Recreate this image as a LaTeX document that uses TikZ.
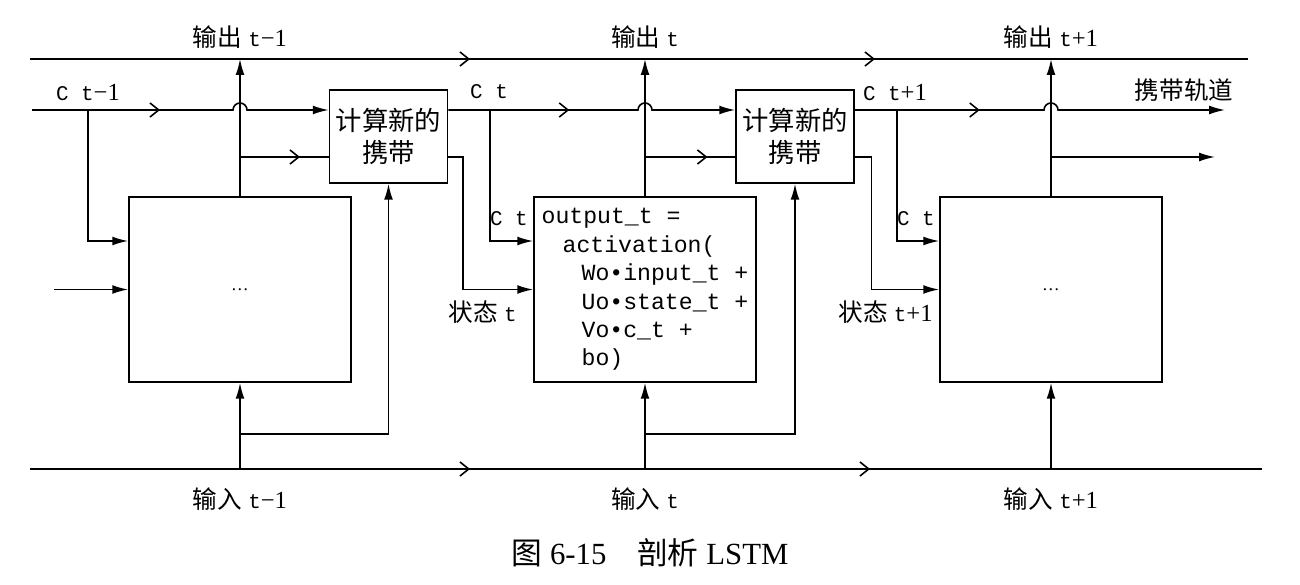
\documentclass[tikz,border=0pt]{standalone}
\usepackage{fontspec}
\setmainfont{Liberation Serif}
\setmonofont[Scale=0.85]{Liberation Mono}
\newfontfamily\cjk{Noto Sans CJK SC}
\usepackage{tikz}
\usetikzlibrary{arrows.meta,calc,decorations.markings}

\begin{document}
\begin{tikzpicture}[
  wire/.style={line width=.9pt},
  arr/.style={-{Latex[length=9pt,width=5pt]}},
  midarr/.style={postaction={decorate,decoration={markings,
      mark=at position #1 with {\arrow{Straight Barb[length=5pt,width=8pt,line width=.9pt]}}}}},
  lstm/.style={draw,line width=.9pt,minimum width=4.44cm,minimum height=3.7cm},
  newc/.style={draw,line width=.9pt,minimum width=2.36cm,minimum height=1.86cm,
      align=center,font=\cjk\fontsize{15}{18.7}\selectfont},
  lbl/.style={font=\fontsize{14}{16}\selectfont},
  code/.style={align=left,font=\ttfamily\fontsize{15.5}{16.2}\selectfont}
]
\useasboundingbox (0,0) rectangle (26,11.68);

% definitions
\coordinate (o0) at (0.6,10.5);   % output line
\coordinate (o1) at (24.96,10.5);
\coordinate (c0) at (0.64,9.48);  % carry track
\coordinate (c1) at (24.5,9.48);
\coordinate (s0) at (0,8.54);
\coordinate (s1) at (24.3,8.54);
\coordinate (i0) at (0.6,2.3);    % input line
\coordinate (i1) at (25.24,2.3);
\coordinate (x0) at (1.08,5.89);
\coordinate (ct1) at (1.76,9.48);
\coordinate (ct2) at (9.8,9.48);
\coordinate (ct3) at (17.94,9.48);

\node[lstm] (box1) at (4.8,5.89) {\fontsize{10}{12}\selectfont …};
\node[lstm] (box2) at (12.9,5.89) {};
\node[lstm] (box3) at (21.02,5.89) {\fontsize{10}{12}\selectfont …};
\node[newc] (comp1) at (7.77,8.95) {计算新的\\携带};
\node[newc] (comp2) at (15.9,8.95) {计算新的\\携带};
\node[code] (expr) at (box2) {output\_t =\\
  \hspace*{0.42cm}activation(\\
  \hspace*{0.8cm}Wo•input\_t +\\
  \hspace*{0.8cm}Uo•state\_t +\\
  \hspace*{0.8cm}Vo•c\_t +\\
  \hspace*{0.8cm}bo)};

% drawing
\draw[wire,midarr=8.8cm,midarr=16.9cm] (o0) -- (o1);
\draw[wire,midarr=8.8cm,midarr=16.8cm] (i0) -- (i1);
\draw[wire,arr,midarr=2.56cm] (c0) -- ($(box1.north |- c0)+(-0.14,0)$)
  arc[start angle=180,end angle=0,radius=0.14] -- (comp1.west |- c0);
\draw[wire,arr,midarr=2.42cm] (comp1.east |- c0) -- ($(box2.north |- c0)+(-0.14,0)$)
  arc[start angle=180,end angle=0,radius=0.14] -- (comp2.west |- c0);
\draw[wire,arr,midarr=2.5cm] (comp2.east |- c0) -- ($(box3.north |- c0)+(-0.14,0)$)
  arc[start angle=180,end angle=0,radius=0.14] -- (c1);

\draw[wire,arr] (box1.north) -- (box1.north |- o0);
\draw[wire,arr] (box2.north) -- (box2.north |- o0);
\draw[wire,arr] (box3.north) -- (box3.north |- o0);
\draw[wire,midarr=1.2cm] (box1.north |- s0) -- (comp1.west |- s0);
\draw[wire,midarr=1.25cm] (box2.north |- s0) -- (comp2.west |- s0);
\draw[wire,arr] (box3.north |- s0) -- (s1);

\draw[wire,arr] (ct1) |- ($(box1.west)+(0,0.97)$);
\draw[wire,arr] (ct2) |- ($(box2.west)+(0,0.97)$);
\draw[wire,arr] (ct3) |- ($(box3.west)+(0,0.97)$);
\draw[wire,arr] (x0) -- (box1.west);
\draw[wire,arr] (comp1.east |- s0) -- (9.26,8.54) |- (box2.west);
\draw[wire,arr] (comp2.east |- s0) -- (17.43,8.54) |- (box3.west);

\draw[wire,arr] (box1.south |- i0) -- (box1.south);
\draw[wire,arr] (box2.south |- i0) -- (box2.south);
\draw[wire,arr] (box3.south |- i0) -- (box3.south);
\draw[wire,arr] (box1.south |- 0,3) -| (comp1.south);
\draw[wire,arr] (box2.south |- 0,3) -| (comp2.south);

% labels
\node[lbl] (lo1) at (4.8,10.94) {{\cjk 输出} \texttt{t}−1};
\node[lbl] (lo2) at (12.9,10.94) {{\cjk 输出} \texttt{t}};
\node[lbl] (lo3) at (21.02,10.94) {{\cjk 输出} \texttt{t}+1};
\node[lbl] (lc1) at (1.76,9.84) {\texttt{C t}−1};
\node[lbl] (lc2) at (9.78,9.84) {\texttt{C t}};
\node[lbl] (lc3) at (17.9,9.84) {\texttt{C t}+1};
\node[lbl] (ltr) at (23.68,9.88) {\cjk 携带轨道};
\node[lbl,anchor=east,inner sep=0pt] (lk2) at (10.56,7.3) {\texttt{C t}};
\node[lbl,anchor=east,inner sep=0pt] (lk3) at (18.7,7.3) {\texttt{C t}};
\node[lbl,anchor=east,inner sep=0pt] (ls2) at (10.34,5.44) {{\cjk 状态} \texttt{t}};
\node[lbl,anchor=east,inner sep=0pt] (ls3) at (18.66,5.44) {{\cjk 状态} \texttt{t}+1};
\node[lbl] (li1) at (4.8,1.7) {{\cjk 输入} \texttt{t}−1};
\node[lbl] (li2) at (12.9,1.7) {{\cjk 输入} \texttt{t}};
\node[lbl] (li3) at (21.02,1.7) {{\cjk 输入} \texttt{t}+1};
\node[font=\fontsize{17.5}{20}\selectfont] (cap) at (13,0.62) {{\cjk 图} 6-15\quad{\cjk 剖析} LSTM};
\end{tikzpicture}
\end{document}
